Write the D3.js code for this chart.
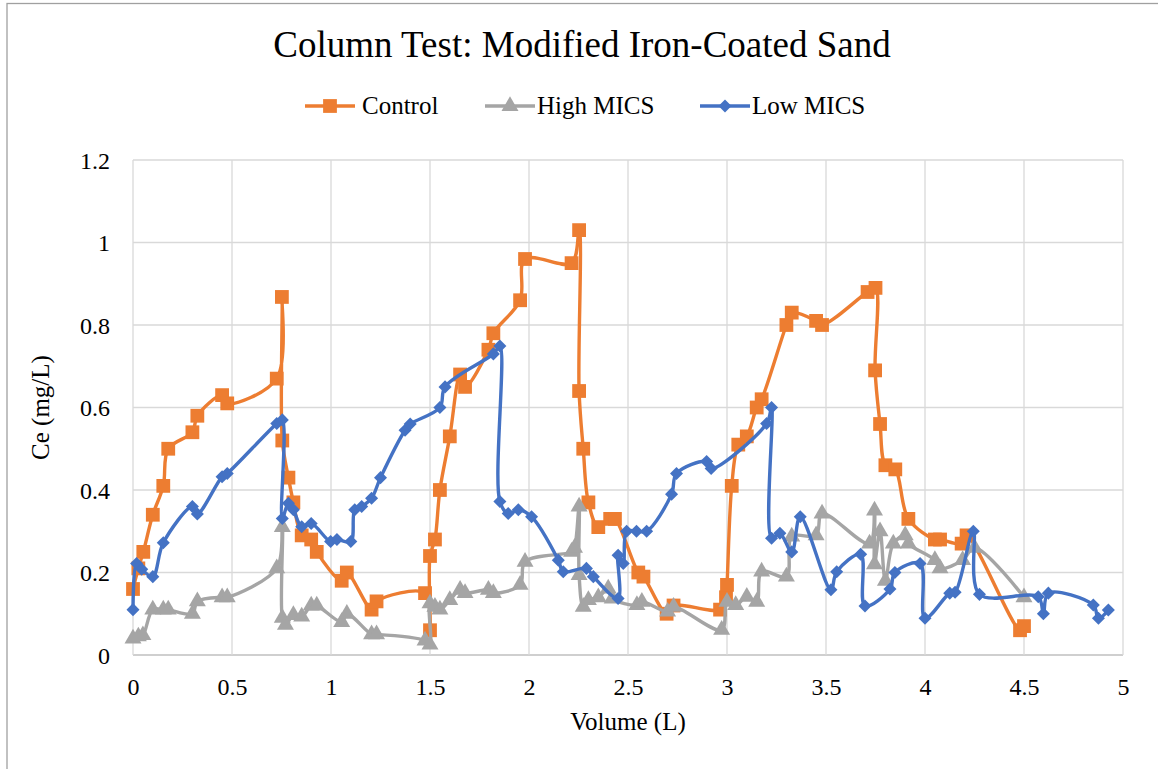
<!DOCTYPE html>
<html>
<head>
<meta charset="utf-8">
<script src="https://cdn.jsdelivr.net/npm/d3@7"></script>
<style>
  html, body { margin: 0; padding: 0; background: #fff; }
  svg { display: block; }
  text { font-family: "Liberation Serif", "Times New Roman", serif; fill: #000; }
</style>
</head>
<body>
<svg id="chart" width="1158" height="769"></svg>
<script>
const seriesNames = ["Control", "High MICS", "Low MICS"];
const seriesColors = ["#ED7D31", "#A5A5A5", "#4472C4"];

const controlX = [0, 0.027, 0.052, 0.10, 0.153, 0.178, 0.30, 0.325, 0.45, 0.476, 0.726, 0.752, 0.754, 0.785, 0.81, 0.852, 0.90, 0.928, 1.054, 1.08, 1.205, 1.23,
  1.475, 1.50, 1.50, 1.525, 1.55, 1.60, 1.652, 1.677, 1.795, 1.82, 1.955, 1.98, 2.215, 2.253, 2.253, 2.274, 2.30, 2.35, 2.41, 2.434, 2.552, 2.578, 2.695, 2.73,
  2.965, 2.995, 3.00, 3.024, 3.057, 3.10, 3.15, 3.175, 3.30, 3.327, 3.45, 3.48, 3.71, 3.75, 3.748, 3.773, 3.80, 3.85, 3.916, 4.05, 4.076, 4.185, 4.21, 4.48, 4.50];
const controlY = [0.16, 0.21, 0.25, 0.34, 0.41, 0.50, 0.54, 0.58, 0.63, 0.61, 0.67, 0.868, 0.52, 0.43, 0.37, 0.29, 0.28, 0.25, 0.18, 0.20, 0.11, 0.13,
  0.15, 0.06, 0.24, 0.28, 0.40, 0.53, 0.68, 0.65, 0.74, 0.78, 0.86, 0.96, 0.95, 1.03, 0.64, 0.50, 0.37, 0.31, 0.33, 0.33, 0.20, 0.19, 0.10, 0.12,
  0.11, 0.14, 0.17, 0.41, 0.51, 0.53, 0.60, 0.62, 0.80, 0.83, 0.81, 0.80, 0.88, 0.89, 0.69, 0.56, 0.46, 0.45, 0.33, 0.28, 0.28, 0.27, 0.29, 0.06, 0.07];

const highX = [0, 0.027, 0.05, 0.10, 0.153, 0.178, 0.30, 0.325, 0.45, 0.476, 0.726, 0.754, 0.754, 0.77, 0.81, 0.852, 0.90, 0.928, 1.054, 1.08, 1.205, 1.23,
  1.475, 1.50, 1.50, 1.525, 1.55, 1.60, 1.652, 1.677, 1.795, 1.82, 1.955, 1.98, 2.215, 2.23, 2.253, 2.253, 2.274, 2.30, 2.35, 2.40, 2.42, 2.545, 2.57, 2.70, 2.73,
  2.973, 3.00, 3.044, 3.10, 3.15, 3.175, 3.30, 3.327, 3.45, 3.48, 3.72, 3.745, 3.745, 3.773, 3.80, 3.84, 3.90, 3.916, 4.05, 4.076, 4.19, 4.25, 4.50];
const highY = [0.04, 0.045, 0.048, 0.11, 0.11, 0.11, 0.10, 0.13, 0.14, 0.14, 0.21, 0.31, 0.09, 0.073, 0.097, 0.093, 0.12, 0.12, 0.08, 0.10, 0.05, 0.05,
  0.035, 0.025, 0.125, 0.117, 0.11, 0.133, 0.158, 0.15, 0.158, 0.15, 0.17, 0.226, 0.25, 0.26, 0.36, 0.194, 0.117, 0.133, 0.14, 0.161, 0.137, 0.121, 0.129, 0.105, 0.117,
  0.061, 0.129, 0.121, 0.141, 0.129, 0.202, 0.19, 0.287, 0.29, 0.343, 0.27, 0.35, 0.22, 0.30, 0.18, 0.27, 0.29, 0.27, 0.23, 0.21, 0.23, 0.26, 0.14];

const lowX = [0, 0.018, 0.044, 0.10, 0.153, 0.30, 0.325, 0.45, 0.476, 0.726, 0.754, 0.754, 0.785, 0.81, 0.852, 0.90, 0.998, 1.03, 1.10, 1.12, 1.155, 1.205, 1.25,
  1.374, 1.40, 1.55, 1.576, 1.82, 1.853, 1.853, 1.895, 1.946, 2.013, 2.148, 2.173, 2.29, 2.325, 2.45, 2.45, 2.476, 2.493, 2.543, 2.594, 2.72, 2.745, 2.897, 2.92,
  3.20, 3.225, 3.225, 3.267, 3.327, 3.37, 3.525, 3.554, 3.675, 3.697, 3.823, 3.848, 3.975, 4.00, 4.125, 4.152, 4.244, 4.275, 4.572, 4.598, 4.623, 4.85, 4.876, 4.926];
const lowY = [0.11, 0.222, 0.208, 0.19, 0.272, 0.36, 0.342, 0.432, 0.44, 0.561, 0.57, 0.331, 0.368, 0.352, 0.311, 0.319, 0.275, 0.28, 0.275, 0.352, 0.36, 0.38, 0.43,
  0.545, 0.56, 0.60, 0.65, 0.73, 0.749, 0.372, 0.343, 0.352, 0.335, 0.23, 0.202, 0.21, 0.19, 0.137, 0.242, 0.222, 0.30, 0.30, 0.30, 0.39, 0.44, 0.469, 0.452,
  0.561, 0.60, 0.283, 0.295, 0.25, 0.335, 0.158, 0.202, 0.244, 0.119, 0.16, 0.20, 0.222, 0.089, 0.15, 0.152, 0.30, 0.147, 0.141, 0.10, 0.15, 0.121, 0.089, 0.109];

const xTicks = [0, 0.5, 1, 1.5, 2, 2.5, 3, 3.5, 4, 4.5, 5];
const yTicks = [0, 0.2, 0.4, 0.6, 0.8, 1, 1.2];
const xTickLabels = ["0", "0.5", "1", "1.5", "2", "2.5", "3", "3.5", "4", "4.5", "5"];
const yTickLabels = ["0", "0.2", "0.4", "0.6", "0.8", "1", "1.2"];

const svg = d3.select("#chart");
const W = 1158, H = 769;
const L = 133, R = 1123, T = 160, B = 655;

// chart border
svg.append("rect").attr("x", 7).attr("y", 3.5).attr("width", W + 10).attr("height", H + 10)
  .attr("fill", "#fff").attr("stroke", "#A0A0A0").attr("stroke-width", 1.3);

const x = d3.scaleLinear().domain([0, 5]).range([L, R]);
const y = d3.scaleLinear().domain([0, 1.2]).range([B, T]);

// gridlines
const grid = svg.append("g");
grid.selectAll("line.h").data(yTicks).join("line")
  .attr("x1", L).attr("x2", R).attr("y1", d => y(d)).attr("y2", d => y(d))
  .attr("stroke", d => d === 0 ? "#BFBFBF" : "#D9D9D9").attr("stroke-width", 1.3);
grid.selectAll("line.v").data(xTicks).join("line")
  .attr("y1", T).attr("y2", B).attr("x1", d => x(d)).attr("x2", d => x(d))
  .attr("stroke", "#D9D9D9").attr("stroke-width", 1.3);

// axes (labels only)
const xAxis = d3.axisBottom(x).tickValues(xTicks).tickSize(0).tickPadding(0)
  .tickFormat((d, i) => xTickLabels[i]);
const gx = svg.append("g").attr("transform", `translate(0,${B})`).call(xAxis);
gx.select(".domain").remove();
gx.selectAll("text").attr("font-family", "Liberation Serif").attr("font-size", 24)
  .attr("fill", "#000").attr("dy", null).attr("y", 40);

const yAxis = d3.axisLeft(y).tickValues(yTicks).tickSize(0).tickPadding(0)
  .tickFormat((d, i) => yTickLabels[i]);
const gy = svg.append("g").attr("transform", `translate(${L},0)`).call(yAxis);
gy.select(".domain").remove();
gy.selectAll("text").attr("font-family", "Liberation Serif").attr("font-size", 24)
  .attr("fill", "#000").attr("dy", null).attr("x", -23).attr("y", 8);

// titles
svg.append("text").attr("x", 582).attr("y", 57).attr("text-anchor", "middle")
  .attr("font-size", 37).text("Column Test: Modified Iron-Coated Sand");
svg.append("text").attr("x", 628).attr("y", 730).attr("text-anchor", "middle")
  .attr("font-size", 25).text("Volume (L)");
svg.append("text").attr("transform", `translate(49,${(T + B) / 2}) rotate(-90)`)
  .attr("text-anchor", "middle").attr("font-size", 25).text("Ce (mg/L)");

// series
const series = [
  { name: seriesNames[0], color: seriesColors[0], xs: controlX, ys: controlY, sym: d3.symbolSquare, size: 190, rot: 0 },
  { name: seriesNames[1], color: seriesColors[1], xs: highX, ys: highY, sym: d3.symbolTriangle, size: 125, rot: 0 },
  { name: seriesNames[2], color: seriesColors[2], xs: lowX, ys: lowY, sym: d3.symbolSquare, size: 85, rot: 45 }
];

const line = d3.line().x(d => x(d[0])).y(d => y(d[1])).curve(d3.curveCatmullRom.alpha(0.5));

series.forEach(s => {
  const pts = s.xs.map((v, i) => [v, s.ys[i]]);
  const g = svg.append("g");
  g.append("path").attr("d", line(pts)).attr("fill", "none")
    .attr("stroke", s.color).attr("stroke-width", 3.4).attr("stroke-linejoin", "round");
  g.selectAll("path.m").data(pts).join("path")
    .attr("d", d3.symbol().type(s.sym).size(s.size))
    .attr("transform", d => `translate(${x(d[0])},${y(d[1])}) rotate(${s.rot})`)
    .attr("fill", s.color);
});

// legend
const legendItems = [
  { lx: 305, tx: 362 },
  { lx: 485, tx: 537 },
  { lx: 700, tx: 752 }
];
const ly = 106;
series.forEach((s, i) => {
  const it = legendItems[i];
  const g = svg.append("g");
  g.append("line").attr("x1", it.lx).attr("x2", it.lx + 50).attr("y1", ly).attr("y2", ly)
    .attr("stroke", s.color).attr("stroke-width", 3.4);
  g.append("path").attr("d", d3.symbol().type(s.sym).size(s.size))
    .attr("transform", `translate(${it.lx + 25},${ly}) rotate(${s.rot})`).attr("fill", s.color);
  g.append("text").attr("x", it.tx).attr("y", ly + 8).attr("font-size", 25).text(s.name);
});
</script>
</body>
</html>
